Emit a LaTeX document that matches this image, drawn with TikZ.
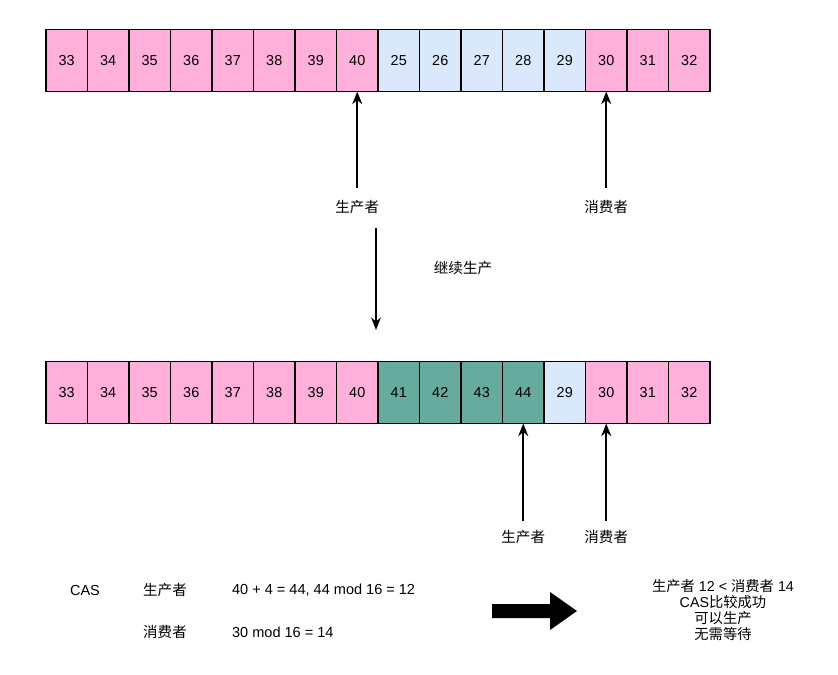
\documentclass[tikz,border=0pt]{standalone}
\usepackage{fontspec}
\setmainfont{Liberation Sans}
\newfontfamily\cjk{Noto Sans CJK SC}
\usepackage{xcolor}
\usetikzlibrary{arrows.meta}
\definecolor{slotpink}{HTML}{FFB0DA}
\definecolor{slotblue}{HTML}{DAE8FC}
\definecolor{slotgreen}{HTML}{67AB9F}

\begin{document}
\begin{tikzpicture}[x=0.03cm, y=-0.03cm, cell/.style={draw, line width=1.5pt, minimum width=1.245cm, minimum height=1.86cm,
    inner sep=0pt, outer sep=0pt, font=\fontsize{12.3}{14}\selectfont}, lbl/.style={font=\fontsize{12.4}{14}\selectfont},
    link/.style={->, line width=1.5pt}, >={Stealth[length=3.8mm, width=3mm]}]
    \useasboundingbox (0,0) rectangle (838,675);
    % ring buffer before
    \foreach \v/\c [count=\i] in {33/slotpink,34/slotpink,35/slotpink,36/slotpink,37/slotpink,38/slotpink,39/slotpink,40/slotpink,
        25/slotblue,26/slotblue,27/slotblue,28/slotblue,29/slotblue,30/slotpink,31/slotpink,32/slotpink}
      \node[cell, fill=\c] (t\i) at ({46+41.5*(\i-0.5)}, 60.5) {\v};
    % ring buffer after
    \foreach \v/\c [count=\i] in {33/slotpink,34/slotpink,35/slotpink,36/slotpink,37/slotpink,38/slotpink,39/slotpink,40/slotpink,
        41/slotgreen,42/slotgreen,43/slotgreen,44/slotgreen,29/slotblue,30/slotpink,31/slotpink,32/slotpink}
      \node[cell, fill=\c] (b\i) at ({46+41.5*(\i-0.5)}, 392.5) {\v};
    \node[lbl] (prodA) at (t8 |- 0,207) {\cjk 生产者};
    \node[lbl] (consA) at (t14 |- 0,207) {\cjk 消费者};
    \draw[link, shorten <=7pt] (prodA) -- (t8);
    \draw[link, shorten <=7pt] (consA) -- (t14);
    \coordinate (go1) at (376,228);
    \coordinate (go2) at (376,330);
    \draw[link] (go1) -- (go2);
    \node[lbl] (goOn) at (463,268) {\cjk 继续生产};
    \node[lbl] (prodB) at (b12 |- 0,537) {\cjk 生产者};
    \node[lbl] (consB) at (b14 |- 0,537) {\cjk 消费者};
    \draw[link, shorten <=4pt] (prodB) -- (b12);
    \draw[link, shorten <=4pt] (consB) -- (b14);
    % CAS check
    \node[lbl] (cas) at (85,590) {CAS};
    \node[lbl] (prodC) at (165,590) {\cjk 生产者};
    \node[lbl, anchor=west] (prodEq) at (228,590) {40 + 4 = 44, 44 mod 16 = 12};
    \node[lbl] (consC) at (165,632) {\cjk 消费者};
    \node[lbl, anchor=west] (consEq) at (228,632) {30 mod 16 = 14};
    \fill (492,604) -- (550,604) -- (550,592) -- (577,611) -- (550,630) -- (550,618) -- (492,618) -- cycle;
    \node[align=center, font=\fontsize{12.2}{13.6}\selectfont] (result) at (723,610)
      {{\cjk 生产者} 12 < {\cjk 消费者} 14\\ CAS{\cjk 比较成功}\\ {\cjk 可以生产}\\ {\cjk 无需等待}};
  \end{tikzpicture}
\end{document}
